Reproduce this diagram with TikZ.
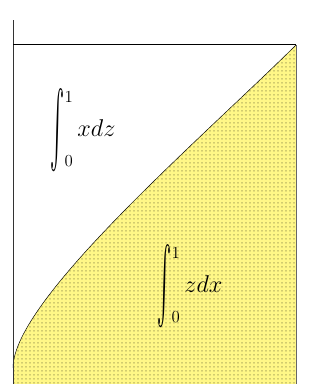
\documentclass[tikz,border=0pt]{standalone}
\usepackage{amsmath,amssymb}
\usepackage{graphicx}
\usetikzlibrary{patterns.meta}

\definecolor{areayellow}{RGB}{255,247,135}
\newcommand{\tallint}{\mathop{\vcenter{\hbox{\scalebox{0.9}[3.2]{$\textstyle\int$}}}}\nolimits}

\tikzdeclarepattern{
  name=sparsedots, type=uncolored,
  bounding box={(0,0) and (3.6pt,3.6pt)},
  tile size={(3.6pt,3.6pt)},
  code={\fill (1.6pt,1.6pt) rectangle (2.5pt,2.6pt);}
}

\begin{document}
\begin{tikzpicture}[x=0.03cm,y=0.03cm]
\useasboundingbox (0,0) rectangle (323,384);
% area under the curve
\fill[areayellow] (13,0) -- (13,16) .. controls (13,84) and (200,244) .. (296,339) -- (296,0) -- cycle;
\fill[pattern=sparsedots, pattern color=black!75!areayellow] (13,0) -- (13,16) .. controls (13,84) and (200,244) .. (296,339) -- (296,0) -- cycle;
\draw[black!60] (296,339) -- (296,0);
\draw[black] (13,16) .. controls (13,84) and (200,244) .. (296,339);
% axes
\draw[black!80] (13,0) -- (13,364);
\draw[black] (13,340) -- (296,340);
\node[text=black, font=\fontsize{20}{24}\selectfont] (upper) at (83,253) {$\tallint^{\raisebox{-6pt}{$\scriptstyle1$}}_{\raisebox{6pt}{$\scriptstyle0$}} xdz$};
\node[text=black, font=\fontsize{20}{24}\selectfont] (lower) at (190,97) {$\tallint^{\raisebox{-6pt}{$\scriptstyle1$}}_{\raisebox{6pt}{$\scriptstyle0$}} zdx$};
\end{tikzpicture}
\end{document}
